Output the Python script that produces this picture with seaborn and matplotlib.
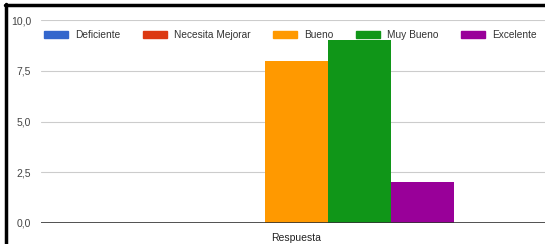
import matplotlib
matplotlib.use("Agg")
import matplotlib.pyplot as plt
import seaborn as sns
import pandas as pd
from matplotlib.lines import Line2D

# Datos
categorias = ["Deficiente", "Necesita Mejorar", "Bueno", "Muy Bueno", "Excelente"]
valores = [0, 0, 8, 9, 2]
grupo = ["Respuesta"] * len(categorias)
colores = ["#3366CC", "#DC3912", "#FF9900", "#109618", "#990099"]
ticks_y = [0, 2.5, 5, 7.5, 10]
etiquetas_y = ["0,0", "2,5", "5,0", "7,5", "10,0"]

sns.set_theme(style="white")
plt.rcParams["font.family"] = ["Liberation Sans", "DejaVu Sans"]

dados = pd.DataFrame({"grupo": grupo, "categoria": categorias, "valor": valores})

fig = plt.figure(figsize=(5.45, 2.44), dpi=100)
ax = fig.add_axes([41 / 545, 21 / 244, 504 / 545, 203 / 244])

sns.barplot(data=dados, x="grupo", y="valor", hue="categoria", hue_order=categorias,
            palette=colores, width=0.625, saturation=1, linewidth=0, ax=ax, legend=False)

ax.set_ylim(0, 10)
ax.set_xlim(-0.507, 0.493)
ax.set_yticks(ticks_y)
ax.set_yticklabels(etiquetas_y, fontsize=7.5, color="#444444")
ax.tick_params(axis="y", length=0, pad=7)
ax.tick_params(axis="x", length=0, pad=7, labelsize=7.5, labelcolor="#222222")
ax.set_xlabel("")
ax.set_ylabel("")
for s in ax.spines.values():
    s.set_visible(False)

for t in ticks_y[1:]:
    ax.axhline(t, color="#cccccc", lw=0.8, zorder=0)
ax.axhline(0, color="#333333", lw=1.2, zorder=3)

# Leyenda arriba
handles = [plt.Rectangle((0, 0), 1, 1, color=c) for c in colores]
ax.legend(handles, categorias, ncol=5, loc="center left", bbox_to_anchor=(-0.013, 0.926),
          frameon=False, fontsize=7.3, handlelength=2.4, handleheight=0.8,
          handletextpad=0.7, columnspacing=2.2, labelcolor="#333333")

# Borde negro (izquierda y arriba)
fig.add_artist(Line2D([6 / 545, 6 / 545], [0, 1 - 4 / 244], transform=fig.transFigure,
                      color="black", lw=2.5))
fig.add_artist(Line2D([5 / 545, 1], [1 - 5 / 244, 1 - 5 / 244], transform=fig.transFigure,
                      color="black", lw=2.5))

fig.savefig("out.png", dpi=100)
